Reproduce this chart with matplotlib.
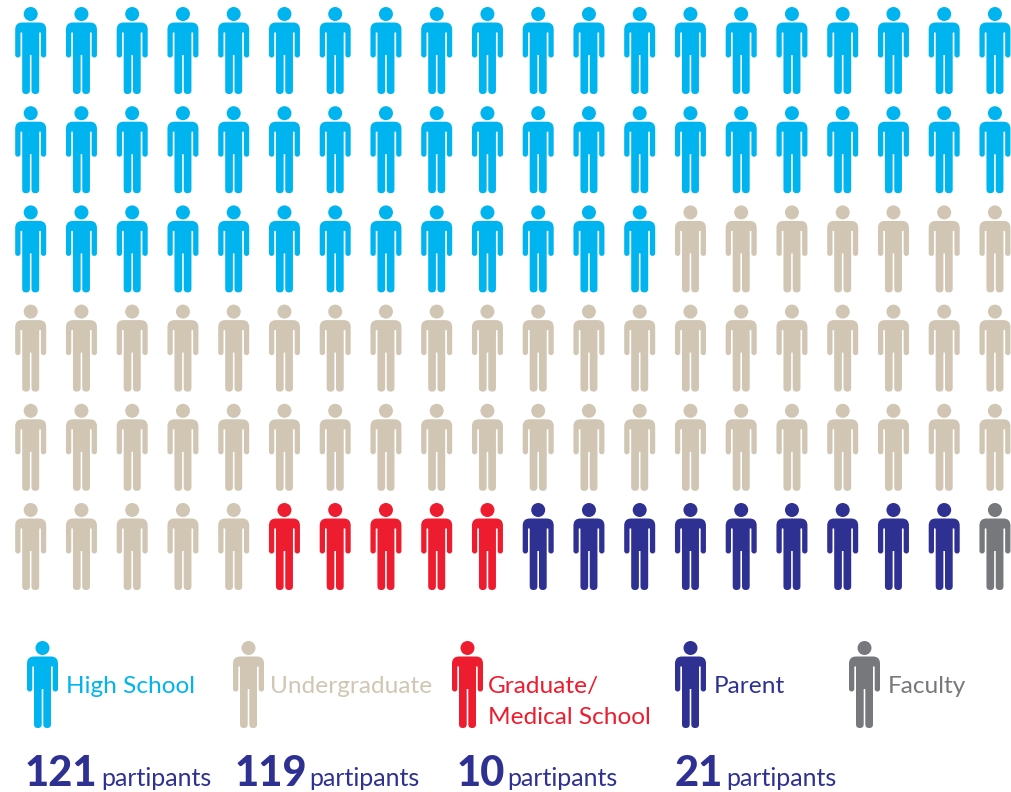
import matplotlib
matplotlib.use('Agg')
import matplotlib.pyplot as plt
import numpy as np
from matplotlib.path import Path

# how many icons of each group are in the grid
groups = ['High School', 'Undergraduate', 'Graduate/\nMedical School', 'Parent', 'Faculty']
icon_counts = [53, 52, 5, 9, 1]
colors = ['#00B5EF', '#D0C6B3', '#ED1C2E', '#2E3192', '#77787B']

participants = ['121', '119', '10', '21']
participants_word = 'partipants'

n_cols = 20
n_rows = 6

plt.rcParams['font.family'] = ['Lato', 'DejaVu Sans']


def rounded_poly(pts):
    # pts = (x, y, corner radius)
    verts = []
    codes = []
    n = len(pts)
    for i in range(n):
        p = np.array(pts[i][:2], dtype=float)
        r = pts[i][2]
        prev = np.array(pts[i - 1][:2], dtype=float)
        nxt = np.array(pts[(i + 1) % n][:2], dtype=float)
        a = p + (prev - p) / np.linalg.norm(prev - p) * r
        b = p + (nxt - p) / np.linalg.norm(nxt - p) * r
        verts.append(a)
        codes.append(Path.MOVETO if i == 0 else Path.LINETO)
        if r > 0:
            verts += [p, b]
            codes += [Path.CURVE3, Path.CURVE3]
    verts.append(verts[0])
    codes.append(Path.CLOSEPOLY)
    return Path(np.array(verts), codes)


def person_marker():
    # drawn in pixels, y up, origin at the middle of the figure
    h = 43.5
    body = [(-15.5, h - 15.5, 7), (15.5, h - 15.5, 7), (15.5, h - 50.5, 2.6), (10.2, h - 50.5, 2.6),
            (10.2, h - 25.5, 0), (8.5, h - 25.5, 0), (8.5, h - 87, 3.7), (0.8, h - 87, 3.7),
            (0.8, h - 48, 0), (-0.8, h - 48, 0), (-0.8, h - 87, 3.7), (-8.5, h - 87, 3.7),
            (-8.5, h - 25.5, 0), (-10.2, h - 25.5, 0), (-10.2, h - 50.5, 2.6), (-15.5, h - 50.5, 2.6)]
    head = Path.circle((0, h - 7), 7)
    return Path.make_compound_path(head, rounded_poly(body))


fig = plt.figure(figsize=(10.12, 7.92), dpi=100)
ax = fig.add_axes([0, 0, 1, 1])
ax.set_xlim(0, 1012)
ax.set_ylim(792, 0)
ax.axis('off')

marker = person_marker()
size = (87 * 0.72) ** 2

# grid of people, filled row by row
kinds = np.repeat(np.arange(len(groups)), icon_counts)
rows, cols = np.divmod(np.arange(len(kinds)), n_cols)
x = 30.7 + cols * 50.75
y = 50.5 + rows * 99.2
ax.scatter(x, y, s=size, marker=marker, c=[colors[k] for k in kinds], linewidths=0, clip_on=False)

# legend row
legend_x = [42, 248, 467, 690, 864]
text_x = [66, 270, 488, 714, 888]
for i in range(len(groups)):
    ax.scatter([legend_x[i]], [683.5], s=size, marker=marker, c=colors[i], linewidths=0, clip_on=False)
    lines = groups[i].split('\n')
    for j in range(len(lines)):
        ax.text(text_x[i], 693 + j * 31, lines[j], color=colors[i], fontsize=17.6, ha='left', va='baseline')

# participant counts
num_x = [25, 235, 457, 675]
word_x = [101, 309, 507, 726]
for i in range(len(participants)):
    ax.text(num_x[i], 786, participants[i], color='#2E3192', fontsize=30, fontweight='black', ha='left', va='baseline')
    ax.text(word_x[i], 786, participants_word, color='#2E3192', fontsize=18, ha='left', va='baseline')

fig.savefig('out.png', dpi=100)
